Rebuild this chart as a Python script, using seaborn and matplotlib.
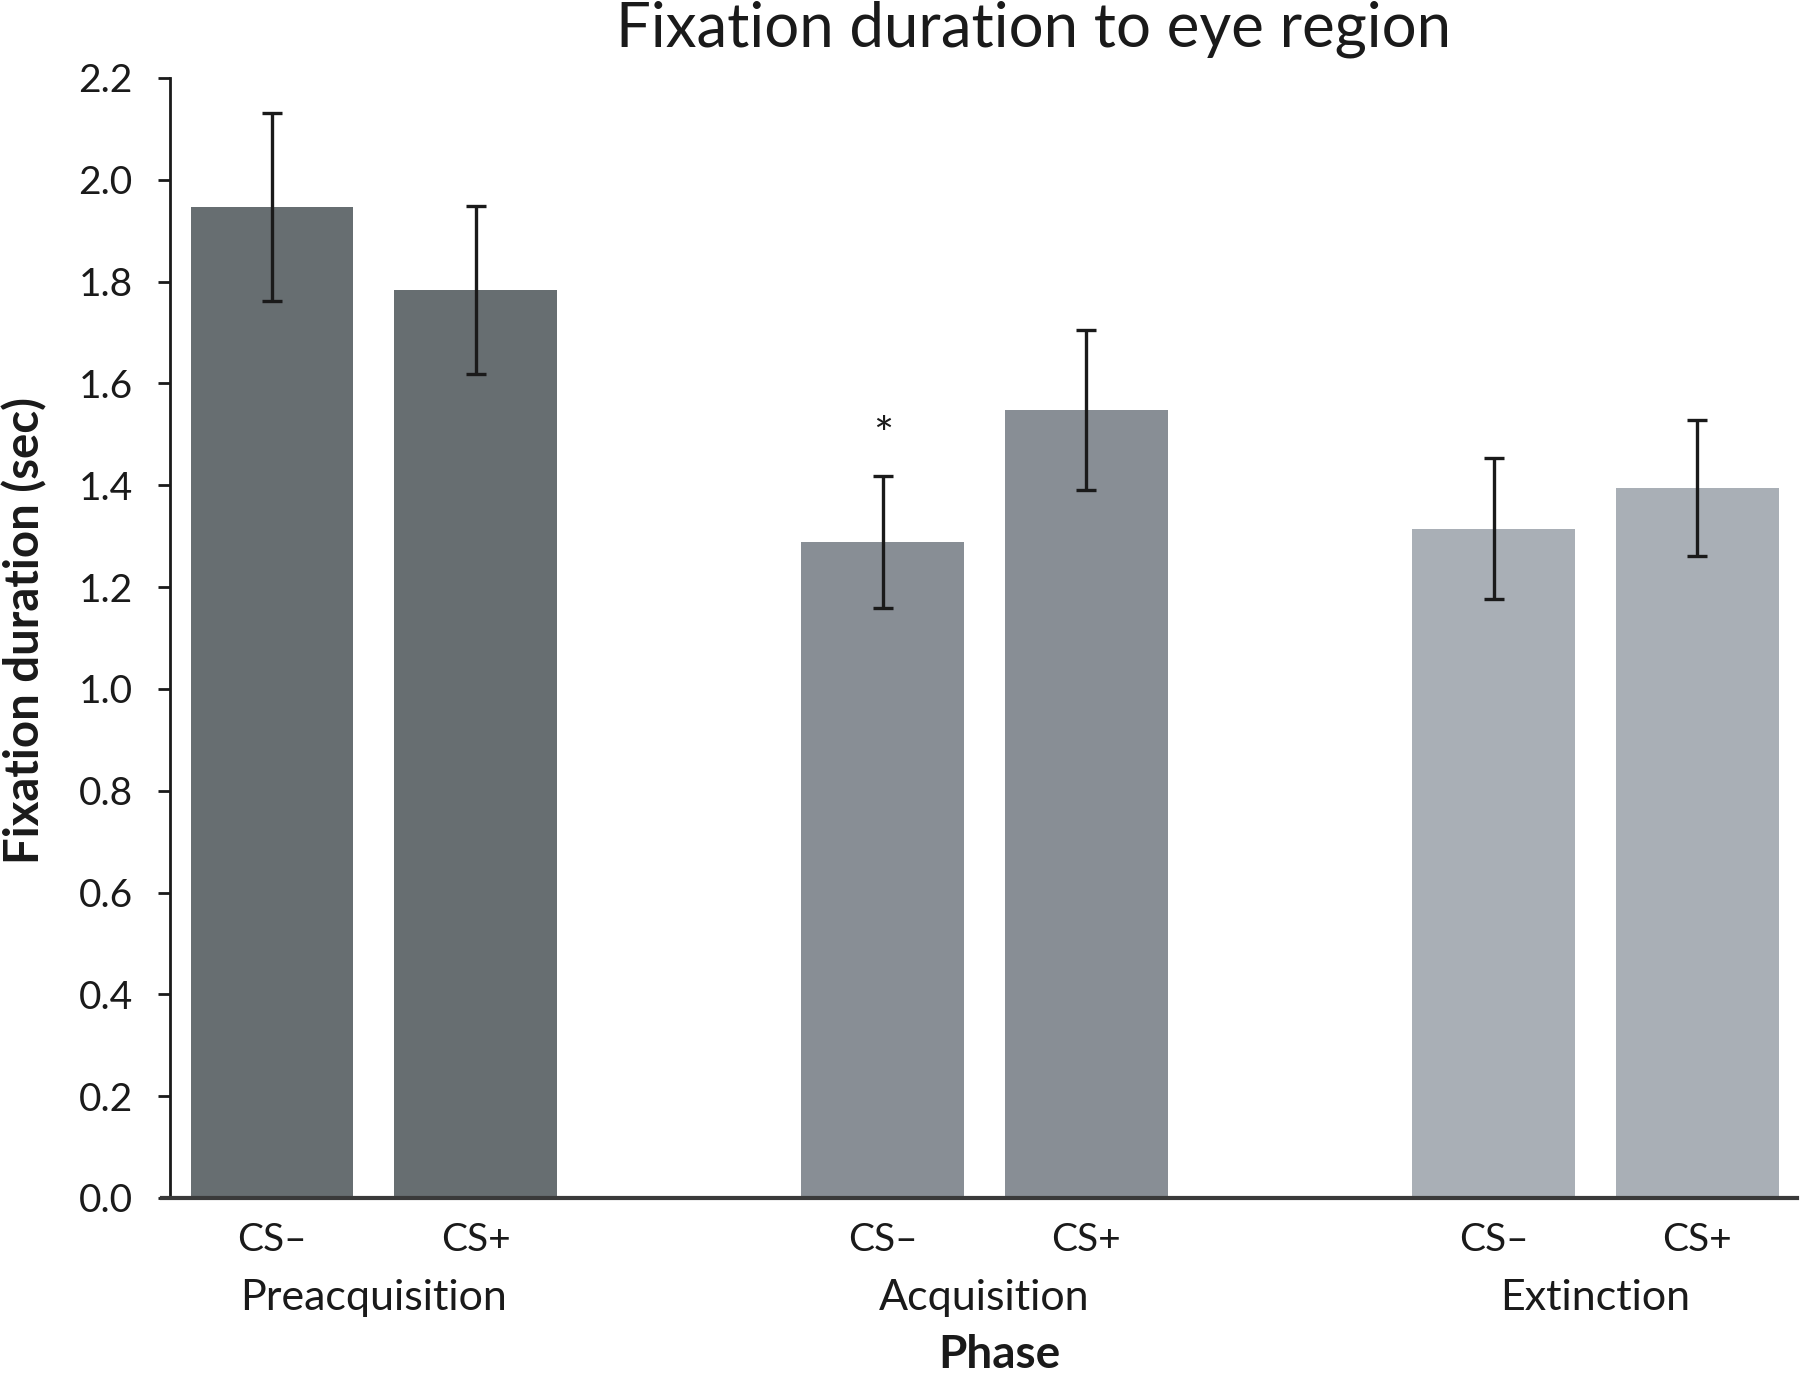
import matplotlib
matplotlib.use("Agg")
import matplotlib.pyplot as plt
import matplotlib.transforms as mtransforms
import seaborn as sns
import pandas as pd
import numpy as np

# ---- data ----
phases = ["Preacquisition", "Acquisition", "Extinction"]
conditions = ["CS\u2013", "CS+"]
means = [1.946, 1.783, 1.289, 1.548, 1.315, 1.395]
errors = [0.185, 0.165, 0.130, 0.157, 0.139, 0.134]
phase_colors = ["#676E71", "#888E95", "#A9AFB6"]
yticks = [0.0, 0.2, 0.4, 0.6, 0.8, 1.0, 1.2, 1.4, 1.6, 1.8, 2.0, 2.2]
title = "Fixation duration to eye region"
ylabel = "Fixation duration (sec)"
xlabel = "Phase"
star_index = 2  # Acquisition CS-

rows = []
for gi, ph in enumerate(phases):
    for ci, cond in enumerate(conditions):
        k = gi * len(conditions) + ci
        rows.append({"phase": ph, "cond": cond, "pos": gi * 3 + ci,
                     "mean": means[k], "err": errors[k]})
df = pd.DataFrame(rows)

sns.set_theme(style="white")
plt.rcParams["font.family"] = ["Lato", "DejaVu Sans"]

fig = plt.figure(figsize=(18, 13.8), dpi=100)
ax = fig.add_axes([162 / 1800, 1 - 1198 / 1380, (1797 - 162) / 1800, (1198 - 78) / 1380])

sns.barplot(data=df, x="pos", y="mean", hue="phase", hue_order=phases,
            palette=phase_colors, native_scale=True, dodge=False, width=0.8,
            errorbar=None, saturation=1, legend=False, ax=ax, linewidth=0)
ax.errorbar(df["pos"], df["mean"], yerr=df["err"], fmt="none",
            ecolor="#1a1a1a", elinewidth=2.4, capsize=7.5, capthick=2.4, zorder=5)

for s in ["top", "right"]:
    ax.spines[s].set_visible(False)
ax.spines["left"].set_position(("data", -0.5))
ax.spines["left"].set_color("#1a1a1a")
ax.spines["left"].set_linewidth(2)
ax.spines["bottom"].set_color("#3a3a3a")
ax.spines["bottom"].set_linewidth(3)

ax.set_xlim(-0.54, 7.49)
ax.set_ylim(0, 2.2)
ax.set_yticks(yticks)
ax.set_yticklabels([f"{v:.1f}" for v in yticks])
ax.set_xticks(df["pos"])
ax.set_xticklabels(df["cond"])
ax.tick_params(axis="x", length=0, pad=17, labelsize=28, labelcolor="#1a1a1a")
ax.tick_params(axis="y", length=9, width=2, color="#1a1a1a", pad=18, direction="out",
               left=True, labelsize=28, labelcolor="#1a1a1a")
ax.set_xlabel("")
ax.set_ylabel("")

# group labels
trans = mtransforms.blended_transform_factory(ax.transData, fig.transFigure)
for gi, ph in enumerate(phases):
    ax.text(gi * 3 + 0.5, 1 - 1310 / 1380, ph, transform=trans, ha="center",
            va="baseline", fontsize=31, color="#1a1a1a")

# significance star
ax.text(df["pos"][star_index], 1.495, "*", ha="center", va="center", fontsize=34, color="#1a1a1a")

fig.text(1033 / 1800, 1 - 47 / 1380, title, ha="center", va="baseline", fontsize=44.5, color="#1a1a1a")
fig.text(999 / 1800, 1 - 1368 / 1380, xlabel, ha="center", va="baseline", fontsize=33,
         fontweight="bold", color="#1a1a1a")
fig.text(25 / 1800, 1 - 631 / 1380, ylabel, ha="center", va="center", rotation=90,
         fontsize=34, fontweight="bold", color="#1a1a1a")

fig.savefig("out.png", dpi=100)
